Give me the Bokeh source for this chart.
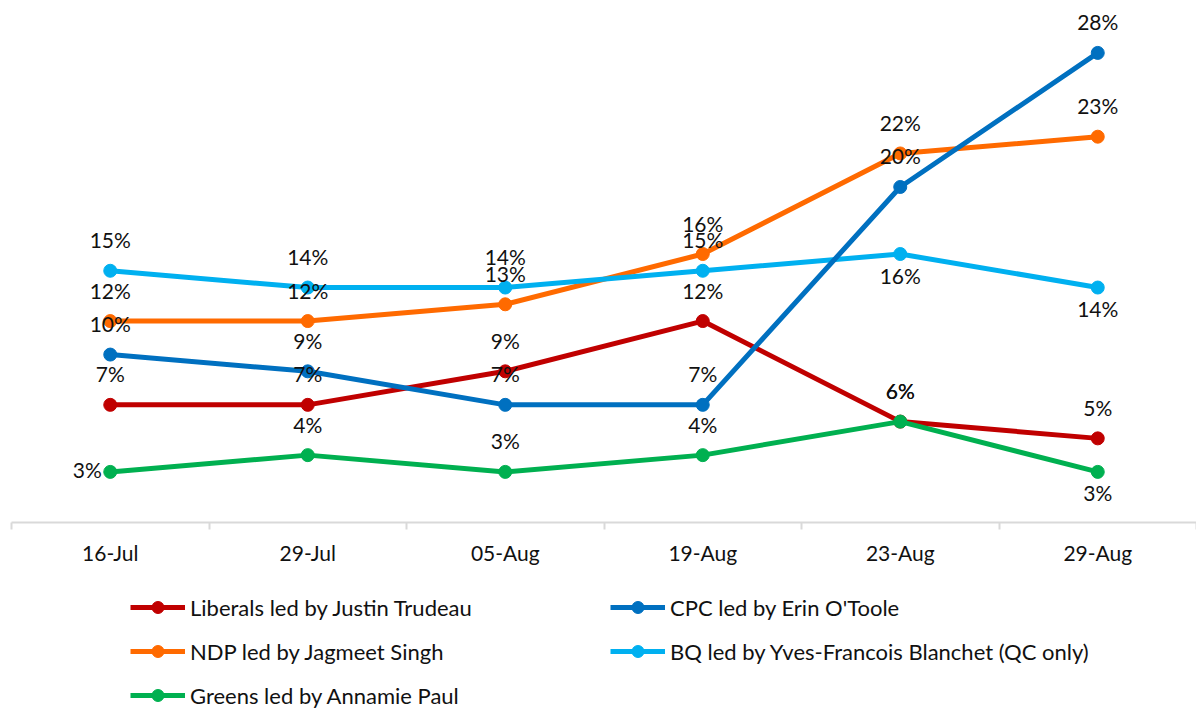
from bokeh.plotting import figure
from bokeh.layouts import column
from bokeh.models import (ColumnDataSource, FactorRange, Range1d, LinearAxis,
                          CategoricalAxis, FixedTicker, Legend, LegendItem)
from bokeh.core.properties import value
from bokeh.embed import file_html
from bokeh.resources import INLINE

# ---------------- data ----------------
dates = ["16-Jul", "29-Jul", "05-Aug", "19-Aug", "23-Aug", "29-Aug"]

liberals = [7, 7, 9, 12, 6, 5]
cpc = [10, 9, 7, 7, 20, 28]
ndp = [12, 12, 13, 16, 22, 23]
bq = [15, 14, 14, 15, 16, 14]
greens = [3, 4, 3, 4, 6, 3]

names = [
    "Liberals led by Justin Trudeau",
    "CPC led by Erin O'Toole",
    "NDP led by Jagmeet Singh",
    "BQ led by Yves-Francois Blanchet (QC only)",
    "Greens led by Annamie Paul",
]

# data-label placement per point
liberals_pos = ["above"] * 6
cpc_pos = ["above"] * 6
ndp_pos = ["above"] * 6
bq_pos = ["above", "above", "above", "above", "below", "below"]
greens_pos = ["left", "above", "above", "above", "above", "below"]

# ---------------- styles ----------------
COLORS = ["#C00000", "#0070C0", "#FF6A00", "#00B0F0", "#00B050"]
OFFSETS = {"above": (0, -31), "below": (0, 21), "left": (-23, -2)}
FONT = "Lato"
TEXT_COLOR = "#111111"
AXIS_COLOR = "#D9D9D9"

p = figure(
    x_range=FactorRange(factors=dates),
    y_range=Range1d(-0.02, 30.53),
    frame_width=1185, frame_height=512,
    min_border_left=11, min_border_right=0, min_border_top=10, min_border_bottom=50,
    output_backend="svg", toolbar_location=None,
    x_axis_location=None, y_axis_location=None,
)
p.outline_line_color = None
p.xgrid.grid_line_color = None
p.ygrid.grid_line_color = None
p.background_fill_color = "white"
p.border_fill_color = "white"

# axis with ticks at category boundaries (synthetic coordinates of the factor range)
edge_ticks = list(range(len(dates) + 1))
edge_axis = LinearAxis(
    ticker=FixedTicker(ticks=edge_ticks, minor_ticks=[]),
    major_label_overrides={t: "" for t in edge_ticks},
    axis_line_color=AXIS_COLOR, axis_line_width=2,
    major_tick_line_color=AXIS_COLOR, major_tick_line_width=2,
    major_tick_in=0, major_tick_out=7,
    minor_tick_line_color=None,
    major_label_text_font_size="0px", major_label_standoff=0,
)
p.add_layout(edge_axis, "below")

cat_axis = CategoricalAxis(
    axis_line_color=None, major_tick_line_color=None,
    major_tick_in=0, major_tick_out=0,
    major_label_text_font=FONT, major_label_text_font_size="21px",
    major_label_text_color=TEXT_COLOR, major_label_standoff=10,
)
p.add_layout(cat_axis, "below")

series = [liberals, cpc, ndp, bq, greens]
positions = [liberals_pos, cpc_pos, ndp_pos, bq_pos, greens_pos]

sources = []
for vals, pos in zip(series, positions):
    sources.append(ColumnDataSource(dict(
        x=dates, y=vals,
        label=[f"{v}%" for v in vals],
        dx=[OFFSETS[k][0] for k in pos],
        dy=[OFFSETS[k][1] for k in pos],
    )))

draw_order = [0, 2, 3, 4, 1]
for i in draw_order:
    p.line("x", "y", source=sources[i], line_color=COLORS[i], line_width=5)
    p.scatter("x", "y", source=sources[i], size=13,
              fill_color=COLORS[i], line_color=COLORS[i])

for i in range(len(series)):
    p.text("x", "y", text="label", source=sources[i],
           x_offset="dx", y_offset="dy",
           text_align="center", text_baseline="middle",
           text_font=value(FONT), text_font_size=value("21px"),
           text_color=TEXT_COLOR)

# ---------------- legend strip below the chart ----------------
# same series drawn in a strip whose visible range lies below the data,
# so only the legend (line + marker keys) shows
leg = figure(
    x_range=FactorRange(factors=dates), y_range=Range1d(-2, -1),
    frame_width=1196, frame_height=137,
    min_border=0, output_backend="svg", toolbar_location=None,
    x_axis_location=None, y_axis_location=None,
)
leg.outline_line_color = None
leg.xgrid.grid_line_color = None
leg.ygrid.grid_line_color = None
leg.background_fill_color = "white"
leg.border_fill_color = "white"

items = []
for i in range(len(series)):
    lr = leg.line("x", "y", source=sources[i], line_color=COLORS[i], line_width=5)
    sr = leg.scatter("x", "y", source=sources[i], size=13,
                     fill_color=COLORS[i], line_color=COLORS[i])
    items.append(LegendItem(label=names[i], renderers=[lr, sr]))

legend = Legend(
    items=items, location=(130, -1),
    orientation="horizontal", ncols=2,
    glyph_width=55, glyph_height=30, label_height=30, label_width=406,
    label_standoff=5, spacing=14, padding=0, margin=0,
    border_line_color=None, background_fill_alpha=0,
    label_text_font=FONT, label_text_font_size="22px", label_text_color=TEXT_COLOR,
)
leg.add_layout(legend, "center")

layout = column(p, leg, spacing=0)
open("out.html", "w").write(file_html(layout, INLINE))
